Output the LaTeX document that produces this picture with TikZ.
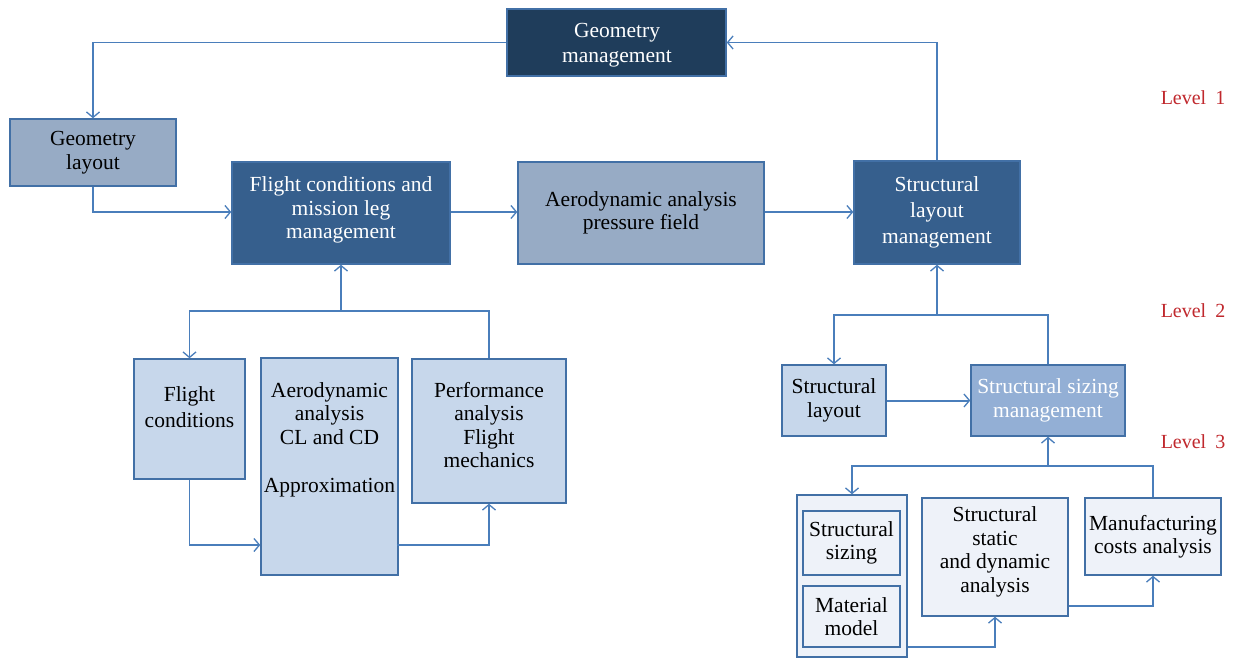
\documentclass[tikz,border=0pt]{standalone}
\usepackage{fontspec}
\setmainfont{Liberation Serif}
\usetikzlibrary{arrows.meta}
\definecolor{navyfill}{HTML}{1F3D5B}
\definecolor{midfill}{HTML}{365F8D}
\definecolor{grayfill}{HTML}{97ABC5}
\definecolor{lightfill}{HTML}{C7D7EB}
\definecolor{sizefill}{HTML}{93AFD5}
\definecolor{palefill}{HTML}{EEF2F9}
\definecolor{linec}{HTML}{4A7EBB}
\definecolor{bordc}{HTML}{4270A6}
\definecolor{levelred}{HTML}{C0282D}
\tikzset{
  box/.style={draw=bordc, line width=1.4pt, inner sep=0pt, align=center,
    font=\fontsize{21.5}{23.5}\selectfont},
  txt/.style={inner sep=0pt, align=center, font=\fontsize{21.5}{23.5}\selectfont},
  conn/.style={draw=linec, line width=1.3pt, -{Straight Barb[length=5.5pt,width=13pt,line width=1.3pt]}},
  connthick/.style={conn, line width=2pt},
  level/.style={text=levelred, font=\fontsize{20}{22}\selectfont, inner sep=0pt}
}
\begin{document}
\begin{tikzpicture}[x=1pt,y=-1pt]
\useasboundingbox (0,0) rectangle (1233,658);
% Level 1
\node[box, fill=navyfill, minimum width=219pt, minimum height=67pt] (gm) at (616.5,42.5) {};
\node[txt, text=white, font=\fontsize{21.5}{24.5}\selectfont] (gmtext) at (617,45) {Geometry\\management};
\node[box, fill=grayfill, minimum width=166pt, minimum height=67pt] (gl) at (93,152.5) {Geometry\\layout};
\node[box, fill=midfill, minimum width=218pt, minimum height=102pt] (fm) at (341,213) {};
\node[txt, text=white] (fmtext) at (341,210) {Flight conditions and\\mission leg\\management};
\node[box, fill=grayfill, minimum width=246pt, minimum height=102pt] (ap) at (641,213) {Aerodynamic analysis\\pressure field};
\node[box, fill=midfill, text=white, minimum width=166pt, minimum height=103pt, font=\fontsize{21.5}{26}\selectfont] (slm) at (937,212.5) {Structural\\layout\\management};
% Level 2 left
\node[box, fill=lightfill, minimum width=111pt, minimum height=120pt] (fc) at (189.5,419) {};
\node[txt, font=\fontsize{21.5}{26.5}\selectfont] (fctext) at (189.5,407) {Flight\\conditions};
\node[box, fill=lightfill, minimum width=137pt, minimum height=217pt] (aa) at (329.5,466.5) {};
\node[txt, anchor=north] (aatext) at (329.5,382) {Aerodynamic\\analysis\\CL and CD\\[24.5pt]Approximation};
\node[box, fill=lightfill, minimum width=154pt, minimum height=144pt] (pa) at (489,431) {};
\node[txt] (patext) at (489,425) {Performance\\analysis\\Flight\\mechanics};
% Level 2 right
\node[box, fill=lightfill, minimum width=104pt, minimum height=71pt] (sl) at (834,400.5) {Structural\\layout};
\node[box, fill=sizefill, text=white, minimum width=154pt, minimum height=71pt] (ssm) at (1048,400.5) {Structural sizing\\management};
% Level 3
\node[box, fill=palefill, minimum width=110pt, minimum height=162pt] (outer) at (852,576) {};
\node[box, fill=palefill, minimum width=97pt, minimum height=64pt] (ss) at (851.5,543) {Structural\\sizing};
\node[box, fill=palefill, minimum width=97pt, minimum height=61pt] (mm) at (851.5,616.5) {Material\\model};
\node[box, fill=palefill, minimum width=146pt, minimum height=118pt] (sda) at (995,557) {};
\node[txt] (sdatext) at (995,552) {Structural\\static\\and dynamic\\analysis};
\node[box, fill=palefill, minimum width=136pt, minimum height=77pt] (mca) at (1153,536.5) {Manufacturing\\costs analysis};
% Levels
\node[level] (lv1) at (1193,98) {Level\hspace{0.45em}1};
\node[level] (lv2) at (1193,311) {Level\hspace{0.45em}2};
\node[level] (lv3) at (1193,442) {Level\hspace{0.45em}3};
% helper coordinates
\coordinate (j1) at (341,311);
\coordinate (j2) at (937,315);
\coordinate (j3) at (1048,466);
\coordinate (y212) at (0,212);
\coordinate (y545) at (0,545);
\coordinate (y606) at (0,606);
\coordinate (y647) at (0,647);
% connectors
\draw[conn] (gm.west) -| (gl.north);
\draw[conn] (gl.south) |- (fm.west |- y212);
\draw[connthick] (fm.east |- y212) -- (ap.west |- y212);
\draw[connthick] (ap.east |- y212) -- (slm.west |- y212);
\draw[conn] (slm.north) |- (gm.east);
\draw[conn, line width=1.8pt] (j1) -- (fm.south);
\draw[conn] (pa.north) |- (j1) -| (fc.north);
\draw[conn] (fc.south) |- (aa.west |- y545);
\draw[conn] ([xshift=-2pt]aa.east |- y545) -| (pa.south);
\draw[conn, line width=1.8pt] (j2) -- (slm.south);
\draw[conn] (ssm.north) |- (j2) -| (sl.north);
\draw[connthick] (sl.east) -- (ssm.west);
\draw[conn, line width=1.8pt] (j3) -- (ssm.south);
\draw[conn] (mca.north) |- (j3) -| (outer.north);
\draw[conn] (outer.east |- y647) -| (sda.south);
\draw[conn] (sda.east |- y606) -| (mca.south);
\end{tikzpicture}
\end{document}
